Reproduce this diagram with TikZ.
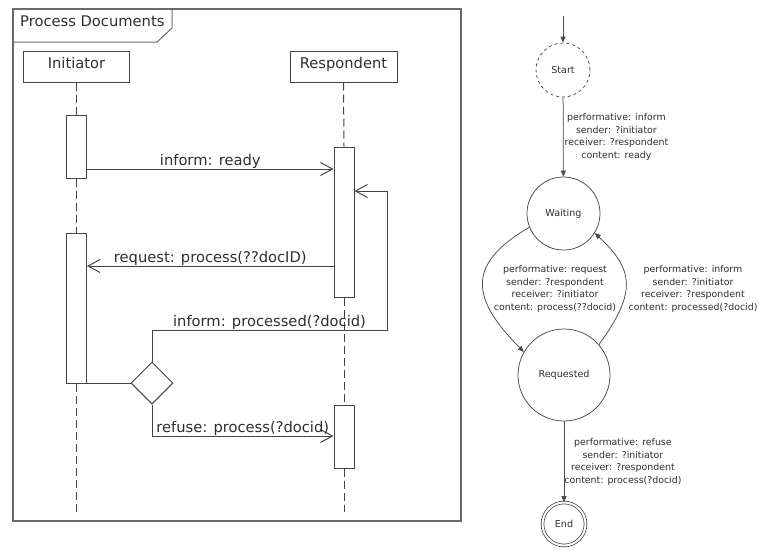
\documentclass[tikz,border=0pt]{standalone}
\usepackage{fontspec}
\setmainfont{DejaVu Sans}
\usetikzlibrary{arrows.meta,shapes.geometric}
\definecolor{lc}{HTML}{444444}
\definecolor{fc}{HTML}{6A6A6A}
\definecolor{tc}{HTML}{2E2E2E}
\definecolor{sc}{HTML}{4A4A4A}
\begin{document}
\begin{tikzpicture}[x=1pt,y=-1pt,
  seqfont/.style={font=\fontsize{14.7}{17}\selectfont, text=tc},
  lifebox/.style={draw=lc, line width=1pt, fill=white, minimum width=106pt, minimum height=31pt, inner sep=0pt, seqfont, text height=0.62em, text depth=0.22em},
  actbox/.style={draw=lc, line width=1pt, fill=white, minimum width=20pt, inner sep=0pt},
  lifeline/.style={draw=lc, line width=1pt, dash pattern=on 8pt off 4pt},
  seqline/.style={draw=lc, line width=1pt},
  msg/.style={draw=lc, line width=1pt, -{Straight Barb[length=12pt,width=13pt]}},
  msglabel/.style={seqfont, above, inner sep=0pt, yshift=-0.5pt},
  state/.style={circle, draw=sc, line width=0.75pt, inner sep=0pt, font=\fontsize{9.6}{11}\selectfont, text=tc},
  trans/.style={draw=sc, line width=0.75pt, -{Triangle[length=6pt,width=5pt]}},
  tlabel/.style={align=center, font=\fontsize{9.4}{12.7}\selectfont, text=tc, inner sep=0pt}
]
\useasboundingbox (0,0) rectangle (760,552);

% ---------------- sequence diagram ----------------
\draw[draw=fc, line width=1.3pt] (13,9) rectangle (461,521);
\draw[draw=fc, line width=1pt] (13,42) -- (157,42) -- (172,28) -- (172,9);
\node[seqfont, anchor=base west, inner sep=0pt] (title) at (20,26.7) {Process Documents};

\node[lifebox] (ibox) at (76.5,66.5) {Initiator};
\node[lifebox, minimum width=107pt] (rbox) at (343.5,66.5) {Respondent};

\coordinate (lb) at (0,512);

\node[actbox, minimum height=63pt] (ia1) at (76.5,146.5) {};
\node[actbox, minimum height=150pt] (ia2) at (76.5,308) {};
\node[actbox, minimum height=150pt] (ra1) at (344,222) {};
\node[actbox, minimum height=63pt] (ra2) at (344,436.5) {};

\draw[lifeline] (ibox.south) -- (ia1.north);
\draw[lifeline] (ia1.south) -- (ia2.north);
\draw[lifeline] (ia2.south) -- (ia2.south |- lb);
\draw[lifeline] (rbox.south) -- (ra1.north);
\draw[lifeline] (ra1.south) -- (ra2.north);
\draw[lifeline] (ra2.south) -- (ra2.south |- lb);

\node[diamond, draw=lc, line width=1pt, fill=white, minimum width=42pt, minimum height=42pt, inner sep=0pt] (dia) at (152,383) {};

\coordinate (m1) at (0,169);
\coordinate (m2) at (0,266);
\coordinate (m3) at (387,191);
\coordinate (m3b) at (0,330);
\coordinate (m4) at (0,436);

\draw[msg] (ia1.east |- m1) -- node[msglabel]{inform: ready} (ra1.west |- m1);
\draw[msg] (ra1.west |- m2) -- node[msglabel]{request: process(??docID)} (ia2.east |- m2);
\draw[msg] (dia.north) -- (dia.north |- m3b) -- node[msglabel]{inform: processed(?docid)} (m3 |- m3b) -- (m3) -- (ra1.east |- m3);
\draw[seqline] (ia2.east |- dia.west) -- (dia.west);
\draw[msg] (dia.south) -- (dia.south |- m4) -- node[msglabel]{refuse: process(?docid)} (ra2.west |- m4);

% ---------------- state diagram ----------------
\coordinate (init) at (563,16);
\node[state, dash pattern=on 3pt off 3pt, minimum size=54pt] (start) at (563,70) {Start};
\node[state, minimum size=73pt] (waiting) at (563.5,213.5) {Waiting};
\node[state, minimum size=92pt] (requested) at (564,375) {Requested};
\node[state, double, double distance=2pt, minimum size=43pt] (end) at (564,524) {End};

\draw[trans] (init) -- (start);
\draw[trans] (start) -- node[tlabel, midway, anchor=west, xshift=1pt]{performative: inform\\sender: ?initiator\\receiver: ?respondent\\content: ready} (waiting);
\draw[trans] (waiting.202) .. controls (465.7,264.2) and (471,298.7) .. (requested.150);
\draw[trans] (requested.41) .. controls (637,292) and (634,270) .. (waiting.328);
\node[tlabel] (lreq) at (555,289) {performative: request\\sender: ?respondent\\receiver: ?initiator\\content: process(??docid)};
\node[tlabel] (linf) at (693,289) {performative: inform\\sender: ?initiator\\receiver: ?respondent\\content: processed(?docid)};
\draw[trans] (requested) -- node[tlabel, midway, anchor=west, xshift=0pt]{performative: refuse\\sender: ?initiator\\receiver: ?respondent\\content: process(?docid)} (end);
\end{tikzpicture}
\end{document}
